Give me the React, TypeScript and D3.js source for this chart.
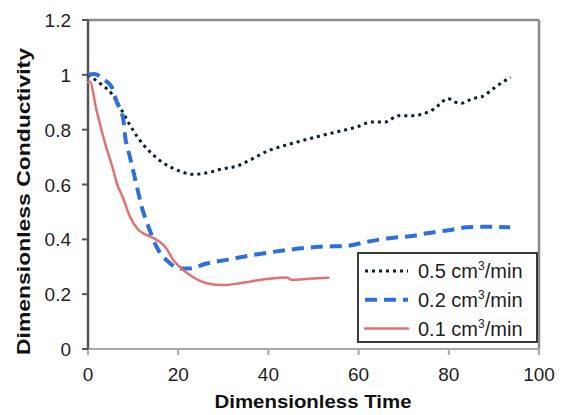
import * as d3 from "d3";

// values
const xTicks = [0, 20, 40, 60, 80, 100];
const yTicks = [0, 0.2, 0.4, 0.6, 0.8, 1, 1.2];

const flow05X = [0, 2.9, 5.3, 7.5, 9.2, 11.1, 13.7, 16.3, 19.7, 23.4, 27, 29.6, 33, 35.9, 40.4, 42.1, 46.6, 51.4, 56.2, 59.6, 62.9, 65.9, 68.8, 71.8, 76.6, 78, 79.8, 81.2, 82.7, 85.4, 87.3, 89.9, 92.1, 93.7];
const flow05Y = [1.0, 0.966, 0.93, 0.87, 0.82, 0.77, 0.72, 0.683, 0.653, 0.637, 0.645, 0.656, 0.667, 0.689, 0.726, 0.735, 0.756, 0.777, 0.796, 0.81, 0.828, 0.828, 0.851, 0.851, 0.874, 0.893, 0.914, 0.902, 0.896, 0.914, 0.92, 0.95, 0.975, 0.991];

const flow02X = [0, 1.5, 3.3, 5.3, 6.4, 7.8, 8.2, 9.3, 10.6, 11.9, 13.4, 15.2, 17.8, 20.4, 22.6, 26.3, 30.7, 36.7, 44.1, 51.4, 57.4, 61.8, 67.7, 70.7, 73, 75.1, 80.3, 84, 88.4, 93.6];
const flow02Y = [1.0, 1.003, 0.985, 0.955, 0.9, 0.84, 0.78, 0.7, 0.61, 0.519, 0.446, 0.373, 0.318, 0.294, 0.294, 0.312, 0.325, 0.343, 0.361, 0.373, 0.376, 0.391, 0.406, 0.41, 0.415, 0.422, 0.434, 0.444, 0.446, 0.444];

const flow01X = [0, 0.4, 1.9, 3.8, 5.6, 6.4, 7.8, 9.3, 11.2, 13, 15.2, 17.1, 18.9, 21.1, 23.7, 26.3, 30, 33.7, 39.6, 44.1, 45.2, 49, 53.3];
const flow01Y = [0.973, 0.975, 0.87, 0.75, 0.653, 0.604, 0.55, 0.482, 0.434, 0.416, 0.398, 0.373, 0.325, 0.288, 0.258, 0.24, 0.233, 0.24, 0.255, 0.261, 0.252, 0.256, 0.26];

const seriesNames = ["0.5", "0.2", "0.1"];

const W = 564;
const H = 415;
const margin = { left: 88, right: 25, top: 20, bottom: 66 };

const series = [
  { name: seriesNames[0], xs: flow05X, ys: flow05Y, color: "#0d1a33", width: 3, dash: "3 4", cap: "butt" },
  { name: seriesNames[1], xs: flow02X, ys: flow02Y, color: "#2e6fd8", width: 4, dash: "12 7", cap: "butt" },
  { name: seriesNames[2], xs: flow01X, ys: flow01Y, color: "#e07272", width: 2.5, dash: "none", cap: "round" },
];

export default function App() {
  const x = d3.scaleLinear().domain([0, 100]).range([margin.left, W - margin.right]);
  const y = d3.scaleLinear().domain([0, 1.2]).range([H - margin.bottom, margin.top]);

  const line = d3
    .line<[number, number]>()
    .x((d) => x(d[0]))
    .y((d) => y(d[1]))
    .curve(d3.curveMonotoneX);

  const font = "Arial, 'Liberation Sans', sans-serif";
  const x0 = x(0);
  const x1 = x(100);
  const yb = y(0);
  const yt = y(1.2);

  // legend box
  const lg = { x: 358, y: 253, w: 179, h: 89 };

  return (
    <svg
      width={W}
      height={H}
      style={{ position: "absolute", left: 0, top: 0, background: "#fff" }}
      fontFamily={font}
    >
      {/* frame: top and right */}
      <line x1={x0} x2={x1} y1={yt} y2={yt} stroke="#8a8a8a" strokeWidth={2.5} />
      <line x1={x1} x2={x1} y1={yt} y2={yb} stroke="#8a8a8a" strokeWidth={2.5} />

      {/* bottom axis */}
      <line x1={x0} x2={x1} y1={yb} y2={yb} stroke="#a8a8a8" strokeWidth={2} />
      {xTicks.map((t) => (
        <g key={"xt" + t}>
          <line x1={x(t)} x2={x(t)} y1={yb} y2={yb + 6} stroke="#a8a8a8" strokeWidth={2} />
          <text x={x(t)} y={yb + 32} textAnchor="middle" fontSize={19} fill="#1e1e1e">
            {t}
          </text>
        </g>
      ))}

      {/* left axis */}
      <line x1={x0} x2={x0} y1={yt} y2={yb} stroke="#555" strokeWidth={2.5} />
      {yTicks.map((t) => (
        <g key={"yt" + t}>
          <line x1={x0 - 6} x2={x0} y1={y(t)} y2={y(t)} stroke="#555" strokeWidth={2} />
          <text x={x0 - 17} y={y(t) + 7} textAnchor="end" fontSize={19} fill="#1e1e1e">
            {d3.format("~g")(t)}
          </text>
        </g>
      ))}

      {/* series */}
      {series.map((s) => (
        <path
          key={s.name}
          d={line(s.xs.map((v, i) => [v, s.ys[i]] as [number, number])) || ""}
          fill="none"
          stroke={s.color}
          strokeWidth={s.width}
          strokeDasharray={s.dash}
          strokeLinecap={s.cap as any}
          strokeLinejoin="round"
        />
      ))}

      {/* legend */}
      <rect x={lg.x} y={lg.y} width={lg.w} height={lg.h} fill="#fff" stroke="#3a3a3a" strokeWidth={2} />
      {series.map((s, i) => {
        const cy = 271 + i * 28.8;
        return (
          <g key={"lg" + s.name}>
            <line
              x1={365}
              x2={408}
              y1={cy}
              y2={cy}
              stroke={s.color}
              strokeWidth={s.width}
              strokeDasharray={s.dash}
              strokeLinecap={s.cap as any}
            />
            <text x={418} y={cy + 7} fontSize={20} fill="#1e1e1e">
              {s.name} cm
              <tspan fontSize={12} dy={-8}>3</tspan>
              <tspan dy={8}>/min</tspan>
            </text>
          </g>
        );
      })}

      {/* axis titles */}
      <text
        x={313}
        y={408}
        textAnchor="middle"
        fontSize={18}
        fontWeight="bold"
        fill="#111"
        textLength={197}
        lengthAdjust="spacingAndGlyphs"
      >
        Dimensionless Time
      </text>
      <text
        transform={`translate(30,${(48 + 355) / 2}) rotate(-90)`}
        textAnchor="middle"
        fontSize={18}
        fontWeight="bold"
        fill="#111"
        textLength={307}
        lengthAdjust="spacingAndGlyphs"
      >
        Dimensionless Conductivity
      </text>
    </svg>
  );
}
